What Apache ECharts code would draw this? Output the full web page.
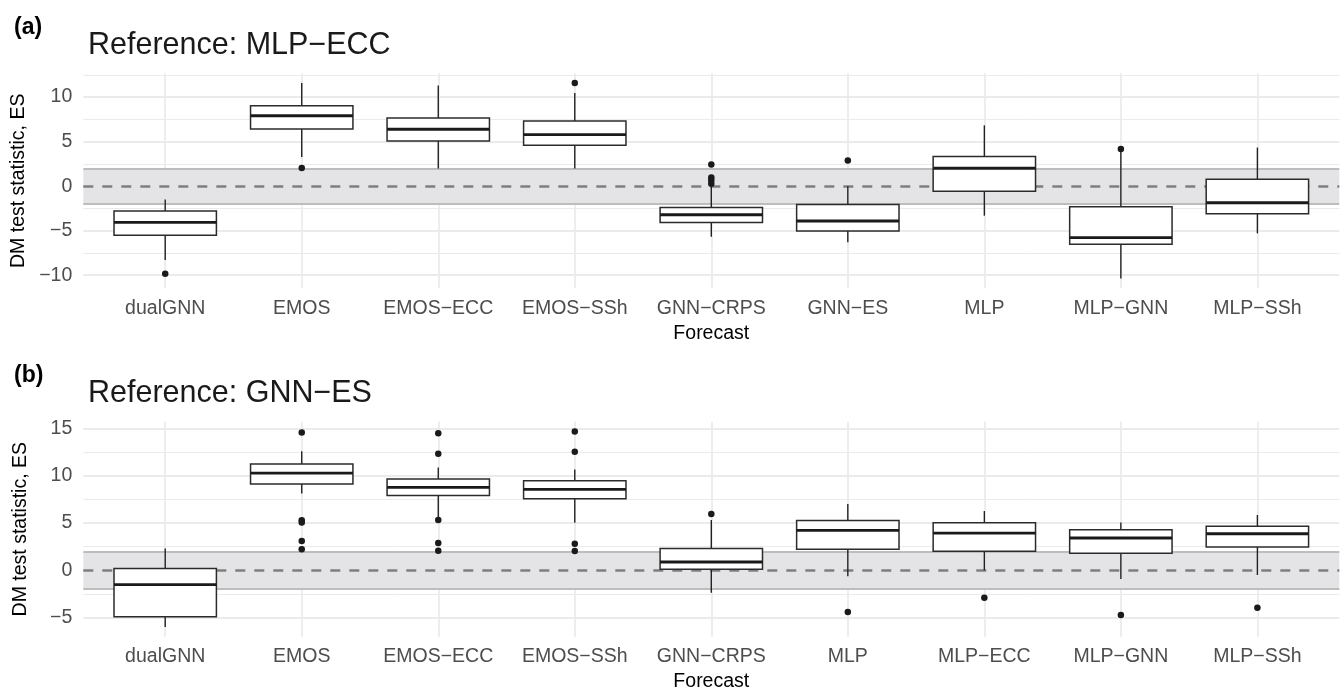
<!DOCTYPE html>
<html>
<head>
<meta charset="utf-8">
<script src="https://cdn.jsdelivr.net/npm/echarts@6/dist/echarts.min.js"></script>
<style>
html,body{margin:0;padding:0;background:#fff;}
#chart{width:1344px;height:693px;}
</style>
</head>
<body>
<div id="chart"></div>
<script>
// ---------- Panel (a): Reference MLP−ECC ----------
const catsA = ['dualGNN','EMOS','EMOS\u2212ECC','EMOS\u2212SSh','GNN\u2212CRPS','GNN\u2212ES','MLP','MLP\u2212GNN','MLP\u2212SSh'];
const loA  = [-8.28, 3.28, 1.98, 1.98, -5.67, -6.31, -3.32, -10.37, -5.30];
const q1A  = [-5.52, 6.42, 5.07, 4.59, -4.07, -5.04, -0.56, -6.53, -3.10];
const medA = [-4.07, 7.91, 6.38, 5.78, -3.21, -3.92, 2.01, -5.78, -1.87];
const q3A  = [-2.80, 9.03, 7.65, 7.31, -2.39, -2.05, 3.32, -2.31, 0.78];
const hiA  = [-1.49, 11.57, 11.30, 10.45, -0.05, 0.00, 6.83, 3.90, 4.33];
const outA = [[-9.85],[2.05],[],[11.57],[0.26,0.67,0.97,2.43],[2.87],[],[4.18],[]];

// ---------- Panel (b): Reference GNN−ES ----------
const catsB = ['dualGNN','EMOS','EMOS\u2212ECC','EMOS\u2212SSh','GNN\u2212CRPS','MLP','MLP\u2212ECC','MLP\u2212GNN','MLP\u2212SSh'];
const loB  = [-5.98, 8.13, 5.45, 5.04, -2.36, -0.63, 0.00, -0.92, -0.49];
const q1B  = [-4.89, 9.12, 7.92, 7.57, 0.11, 2.22, 2.01, 1.80, 2.46];
const medB = [-1.51, 10.28, 8.77, 8.56, 0.88, 4.23, 3.94, 3.42, 3.87];
const q3B  = [0.21, 11.23, 9.65, 9.47, 2.32, 5.28, 5.04, 4.30, 4.65];
const hiB  = [2.32, 12.60, 10.88, 10.67, 5.32, 7.00, 6.27, 5.07, 5.85];
const outB = [[],[14.58,5.30,5.05,3.10,2.22],[14.50,12.32,5.32,2.89,2.08],[14.68,12.54,2.82,2.04],[5.95],[-4.40],[-2.89],[-4.72],[-3.94]];

// ---------- Axis ticks ----------
const yMajorA = [-10, -5, 0, 5, 10];
const yMinorA = [-7.5, -2.5, 2.5, 7.5, 12.5];
const yRangeA = [-11.47, 12.67];
const yMajorB = [-5, 0, 5, 10, 15];
const yMinorB = [-2.5, 2.5, 7.5, 12.5];
const yRangeB = [-7.01, 15.71];
const band = 1.96;

const FONT = "'Liberation Sans', Arial, Helvetica, sans-serif";
const chart = echarts.init(document.getElementById('chart'), null, {renderer:'canvas'});

const gridsPx = [
  {left: 83.3, right: 4.7, top: 73.3, height: 215},
  {left: 83.3, right: 4.7, top: 421.7, height: 215}
];

function boxData(lo,q1,med,q3,hi){ return lo.map((v,i)=>[i, lo[i], q1[i], med[i], q3[i], hi[i]]); }
function outData(out){ const r=[]; out.forEach((arr,i)=>arr.forEach(v=>r.push([i,v]))); return r; }

function renderBox(params, api){
  const x = api.value(0);
  const lo = api.coord([x, api.value(1)]);
  const q1 = api.coord([x, api.value(2)]);
  const md = api.coord([x, api.value(3)]);
  const q3 = api.coord([x, api.value(4)]);
  const hi = api.coord([x, api.value(5)]);
  const w = api.size([0.75, 0])[0];
  const cx = lo[0];
  const ink = '#222222';
  return {type:'group', children:[
    {type:'line', shape:{x1:cx,y1:hi[1],x2:cx,y2:q3[1]}, style:{stroke:ink, lineWidth:1.4}},
    {type:'line', shape:{x1:cx,y1:q1[1],x2:cx,y2:lo[1]}, style:{stroke:ink, lineWidth:1.4}},
    {type:'rect', shape:{x:cx-w/2, y:q3[1], width:w, height:q1[1]-q3[1]}, style:{fill:'#ffffff', stroke:'#2b2b2b', lineWidth:1.5}},
    {type:'line', shape:{x1:cx-w/2,y1:md[1],x2:cx+w/2,y2:md[1]}, style:{stroke:'#1a1a1a', lineWidth:2.9}}
  ]};
}

const xAxes = [], yAxes = [], series = [];
const panels = [
  {cats:catsA, box:boxData(loA,q1A,medA,q3A,hiA), out:outData(outA), major:yMajorA, minor:yMinorA, range:yRangeA},
  {cats:catsB, box:boxData(loB,q1B,medB,q3B,hiB), out:outData(outB), major:yMajorB, minor:yMinorB, range:yRangeB}
];

panels.forEach((p, k) => {
  const idx = p.cats.map((c,i)=>i);
  xAxes.push({
    type:'value', gridIndex:k, min:-0.6, max:8.6,
    axisLine:{show:false}, axisTick:{show:false}, splitLine:{show:false},
    axisLabel:{customValues: idx, formatter: v => p.cats[Math.round(v)] || '', color:'#4d4d4d', fontSize:19.5, fontFamily:FONT, margin:10},
    name:'Forecast', nameLocation:'middle', nameGap:35,
    nameTextStyle:{color:'#000', fontSize:19.5, fontFamily:FONT}
  });
  yAxes.push({
    type:'value', gridIndex:k, min:p.range[0], max:p.range[1],
    axisLine:{show:false}, axisTick:{show:false}, splitLine:{show:false},
    axisLabel:{customValues: p.major, formatter: v => String(v).replace('-', '\u2212'), color:'#4d4d4d', fontSize:19.5, fontFamily:FONT, margin:11},
    name:'DM test statistic, ES', nameLocation:'middle', nameGap:53,
    nameTextStyle:{color:'#000', fontSize:19.5, fontFamily:FONT}
  });
  // gridlines
  const gl = [];
  p.minor.forEach(v => gl.push({yAxis:v, lineStyle:{color:'#ebebeb', width:1, type:'solid'}}));
  p.major.forEach(v => gl.push({yAxis:v, lineStyle:{color:'#ebebeb', width:1.8, type:'solid'}}));
  idx.forEach(v => gl.push({xAxis:v, lineStyle:{color:'#ebebeb', width:1.8, type:'solid'}}));
  series.push({
    type:'line', xAxisIndex:k, yAxisIndex:k, data:[], silent:true,
    markLine:{silent:true, symbol:['none','none'], label:{show:false}, animation:false, z:1, data:gl}
  });
  // band + reference lines
  series.push({
    type:'line', xAxisIndex:k, yAxisIndex:k, data:[], silent:true,
    markArea:{silent:true, animation:false, z:2, itemStyle:{color:'#e4e4e6', opacity:1}, label:{show:false},
      data:[[{yAxis:-band},{yAxis:band}]]},
    markLine:{silent:true, symbol:['none','none'], label:{show:false}, animation:false, z:3, data:[
      {yAxis:-band, lineStyle:{color:'#bdbdbd', width:2.2, type:'solid'}},
      {yAxis:band, lineStyle:{color:'#bdbdbd', width:2.2, type:'solid'}},
      {yAxis:0, lineStyle:{color:'#7f7f7f', width:2.6, type:[10,9]}}
    ]}
  });
  series.push({
    type:'custom', xAxisIndex:k, yAxisIndex:k, z:10, renderItem:renderBox,
    encode:{x:0, y:[1,2,3,4,5]}, data:p.box, animation:false, silent:true
  });
  series.push({
    type:'scatter', xAxisIndex:k, yAxisIndex:k, z:11, symbol:'circle', symbolSize:6.5,
    itemStyle:{color:'#1a1a1a', opacity:1}, data:p.out, animation:false, silent:true
  });
});

chart.setOption({
  animation:false,
  backgroundColor:'#ffffff',
  title:[
    {text:'(a)', left:9, top:11, textStyle:{fontSize:23, fontWeight:'bold', color:'#000', fontFamily:FONT}},
    {text:'Reference: MLP\u2212ECC', left:83, top:25, textStyle:{fontSize:30.5, fontWeight:'normal', color:'#1a1a1a', fontFamily:FONT}},
    {text:'(b)', left:9, top:359, textStyle:{fontSize:23, fontWeight:'bold', color:'#000', fontFamily:FONT}},
    {text:'Reference: GNN\u2212ES', left:83, top:373, textStyle:{fontSize:30.5, fontWeight:'normal', color:'#1a1a1a', fontFamily:FONT}}
  ],
  grid:gridsPx,
  xAxis:xAxes,
  yAxis:yAxes,
  series:series
});
</script>
</body>
</html>
